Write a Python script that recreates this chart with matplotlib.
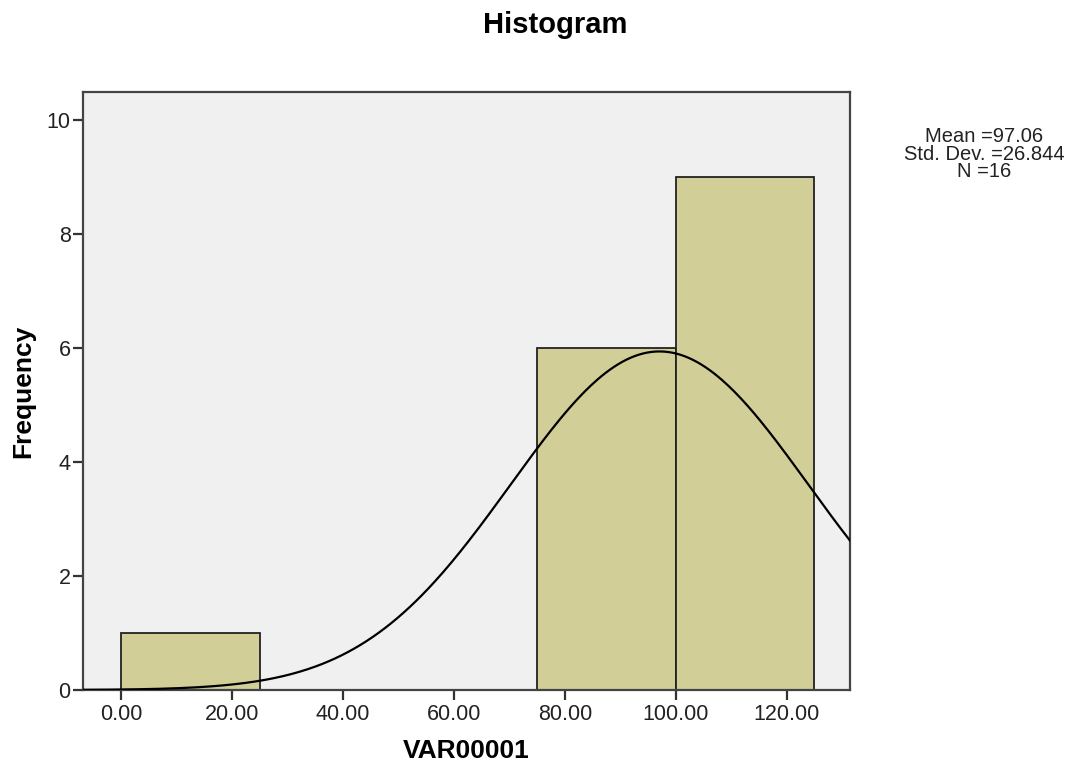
import numpy as np
import matplotlib
matplotlib.use("Agg")
import matplotlib.pyplot as plt

plt.rcParams['font.family'] = ['Liberation Sans', 'DejaVu Sans']

# Histogram data
bin_edges = [0, 25, 50, 75, 100, 125]
counts = [1, 0, 0, 6, 9]
mean_val = 97.06
std_val = 26.844
n_val = 16

x_ticks = [0, 20, 40, 60, 80, 100, 120]
y_ticks = [0, 2, 4, 6, 8, 10]

fig = plt.figure(figsize=(10.68, 7.66), dpi=100)
ax = fig.add_axes([83/1068, 76/766, (850-83)/1068, (690-92)/766])
ax.set_facecolor('#f0f0f0')

lefts = bin_edges[:-1]
widths = np.diff(bin_edges)
ax.bar(lefts, counts, width=widths, align='edge', color='#d2ce98',
       edgecolor='#222222', linewidth=1.3, zorder=2)

# normal curve scaled to counts (N * bin width)
bw = bin_edges[1] - bin_edges[0]
xs = np.linspace(-10, 140, 400)
ys = n_val * bw / (std_val * np.sqrt(2 * np.pi)) * np.exp(-0.5 * ((xs - mean_val) / std_val) ** 2)
ax.plot(xs, ys, color='black', linewidth=1.6, zorder=3)

ax.set_xlim(-6.85, 131.4)
ax.set_ylim(0, 10.5)
ax.set_xticks(x_ticks)
ax.set_xticklabels([f'{v:.2f}' for v in x_ticks])
ax.set_yticks(y_ticks)
ax.tick_params(axis='both', direction='out', length=7, width=1.6, color='#333333',
               labelsize=15.5, labelcolor='#222222')
ax.tick_params(axis='x', pad=3)
ax.tick_params(axis='y', pad=2)
for s in ax.spines.values():
    s.set_color('#444444')
    s.set_linewidth(1.6)

ax.set_xlabel('VAR00001', fontsize=19, fontweight='bold', labelpad=10)
ax.set_ylabel('Frequency', fontsize=19, fontweight='bold', labelpad=8)

fig.text(555/1068, 1 - 25/766, 'Histogram', fontsize=21, fontweight='bold',
         ha='center', va='center')
fig.text(984/1068, 1 - 154/766,
         f'Mean ={mean_val:.2f}\nStd. Dev. ={std_val:.3f}\nN ={n_val}',
         fontsize=14.5, ha='center', va='center', linespacing=0.88, color='#222222')

fig.savefig('out.png', dpi=100)
